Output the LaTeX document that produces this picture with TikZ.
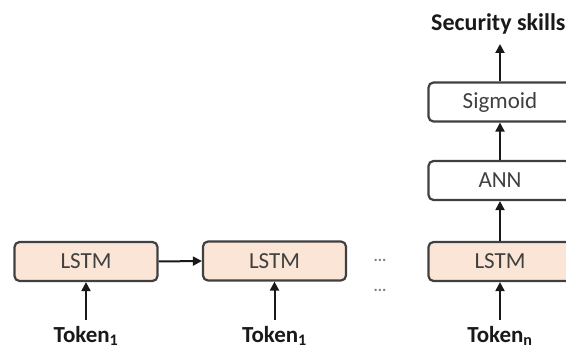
\documentclass[tikz,border=0pt]{standalone}
\usepackage{fontspec}
\setmainfont{Carlito}
\usetikzlibrary{arrows.meta}
\definecolor{peach}{HTML}{FBE5D6}
\definecolor{boxline}{HTML}{404040}
\definecolor{txt}{HTML}{404040}
\tikzset{
  blk/.style={draw=boxline, line width=2.2pt, rounded corners=5pt, minimum width=143pt, minimum height=39pt, inner sep=0pt, font=\fontsize{23}{26}\selectfont, text=txt},
  lstm/.style={blk, fill=peach},
  plain/.style={blk, fill=white},
  tok/.style={font=\bfseries\fontsize{23}{26}\selectfont, text=black!90, inner sep=0pt},
  arr/.style={-{Triangle[length=9pt,width=9pt]}, line width=2pt, black!90},
  dots/.style={font=\bfseries\fontsize{16}{18}\selectfont, text=gray, inner sep=0pt}
}
\begin{document}
\begin{tikzpicture}[x=1pt,y=-1pt]
\path[use as bounding box] (0,0) rectangle (566,350);
\clip (0,0) rectangle (566,350);
\fill[white] (0,0) rectangle (566,350);
\node[lstm] (l1) at (86,261.5) {LSTM};
\node[lstm] (l2) at (274.5,261) {LSTM};
\node[lstm] (l3) at (500,261.5) {LSTM};
\node[plain] (ann) at (500,180.5) {ANN};
\node[plain] (sig) at (500,102) {Sigmoid};
\node[tok, anchor=west, font=\bfseries\fontsize{24}{27}\selectfont] (sec) at (431,24) {Security skills};
\node[tok] (t1) at (86,336) {Token$_{\mathbf 1}$};
\node[tok] (t2) at (274.5,336) {Token$_{\mathbf 1}$};
\node[tok] (tn) at (500,336) {Token$_{\mathbf n}$};
\node[dots] (d1) at (380,260) {...};
\node[dots] (d2) at (380,290) {...};
\coordinate (t1a) at (86,320);
\coordinate (t2a) at (274.5,320);
\coordinate (tna) at (500,320);
\coordinate (seca) at (500,44);
\draw[arr] (t1a) -- (l1.south);
\draw[arr] (t2a) -- (l2.south);
\draw[arr] (tna) -- (l3.south);
\draw[arr] (l1.east) -- (l2.west);
\draw[arr] (l3.north) -- (ann.south);
\draw[arr] (ann.north) -- (sig.south);
\draw[arr] (sig.north) -- (seca);
\end{tikzpicture}
\end{document}
